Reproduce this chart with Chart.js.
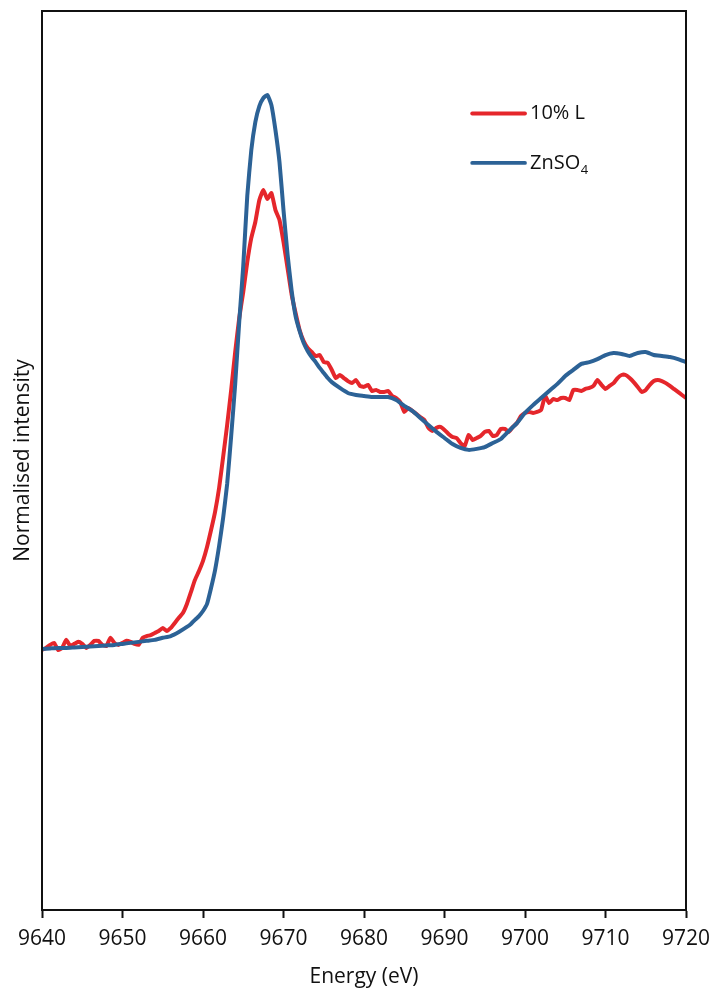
<!DOCTYPE html>
<html>
<head>
<meta charset="utf-8">
<script src="https://cdn.jsdelivr.net/npm/chart.js@4.4.0/dist/chart.umd.min.js"></script>
<style>
  html, body { margin: 0; padding: 0; background: #ffffff; }
  #wrap { width: 716px; height: 996px; }
</style>
</head>
<body>
<div id="wrap"><canvas id="c" width="716" height="996"></canvas></div>
<script>
// ---- Data ----
const seriesNames = ["10% L", "ZnSO\u2084"];
const xTickValues = [9640, 9650, 9660, 9670, 9680, 9690, 9700, 9710, 9720];

const energyRed = [
  9640, 9640.5, 9641, 9641.5, 9642, 9642.5, 9643, 9643.5, 9644, 9644.5,
  9645, 9645.5, 9646, 9646.5, 9647, 9647.5, 9648, 9648.5, 9649, 9649.5,
  9650, 9650.5, 9651, 9651.5, 9652, 9652.5, 9653, 9653.5, 9654, 9654.5,
  9655, 9655.5, 9656, 9656.5, 9657, 9657.5, 9658, 9658.5, 9659, 9659.5,
  9660, 9660.5, 9661, 9661.5, 9662, 9662.5, 9663, 9663.5, 9664, 9664.5,
  9665, 9665.5, 9666, 9666.5, 9667, 9667.5, 9668, 9668.5, 9669, 9669.5,
  9670, 9670.5, 9671, 9671.5, 9672, 9672.5, 9673, 9673.5, 9674, 9674.5,
  9675, 9675.5, 9676, 9676.5, 9677, 9677.5, 9678, 9678.5, 9679, 9679.5,
  9680, 9680.5, 9681, 9681.5, 9682, 9682.5, 9683, 9683.5, 9684, 9684.5,
  9685, 9685.5, 9686, 9686.5, 9687, 9687.5, 9688, 9688.5, 9689, 9689.5,
  9690, 9690.5, 9691, 9691.5, 9692, 9692.5, 9693, 9693.5, 9694, 9694.5,
  9695, 9695.5, 9696, 9696.5, 9697, 9697.5, 9698, 9698.5, 9699, 9699.5,
  9700, 9700.5, 9701, 9701.5, 9702, 9702.5, 9703, 9703.5, 9704, 9704.5,
  9705, 9705.5, 9706, 9706.5, 9707, 9707.5, 9708, 9708.5, 9709, 9709.5,
  9710, 9710.5, 9711, 9711.5, 9712, 9712.5, 9713, 9713.5, 9714, 9714.5,
  9715, 9715.5, 9716, 9716.5, 9717, 9717.5, 9718, 9718.5, 9719, 9719.5,
  9720
];
const intensityRed = [
  -0.008, 0.000, 0.012, 0.020, -0.008, 0.000, 0.032, 0.008, 0.016, 0.024,
  0.016, 0.000, 0.012, 0.028, 0.028, 0.012, 0.008, 0.040, 0.020, 0.012,
  0.020, 0.028, 0.024, 0.016, 0.012, 0.040, 0.047, 0.051, 0.059, 0.067,
  0.079, 0.067, 0.079, 0.099, 0.119, 0.138, 0.174, 0.221, 0.269, 0.304,
  0.344, 0.399, 0.466, 0.538, 0.632, 0.755, 0.881, 1.020, 1.170, 1.304,
  1.407, 1.526, 1.621, 1.684, 1.771, 1.810, 1.775, 1.798, 1.731, 1.692,
  1.605, 1.502, 1.399, 1.324, 1.257, 1.213, 1.186, 1.170, 1.154, 1.158,
  1.130, 1.127, 1.099, 1.067, 1.079, 1.067, 1.055, 1.047, 1.059, 1.036,
  1.032, 1.040, 1.016, 1.020, 1.012, 1.012, 1.016, 0.996, 0.988, 0.972,
  0.933, 0.949, 0.937, 0.925, 0.913, 0.901, 0.870, 0.858, 0.870, 0.874,
  0.862, 0.846, 0.834, 0.830, 0.810, 0.798, 0.842, 0.822, 0.830, 0.838,
  0.854, 0.858, 0.838, 0.842, 0.866, 0.866, 0.854, 0.874, 0.889, 0.917,
  0.929, 0.933, 0.929, 0.933, 0.941, 0.996, 0.968, 0.984, 0.980, 0.988,
  0.988, 0.980, 1.020, 1.020, 1.016, 1.024, 1.028, 1.036, 1.059, 1.040,
  1.024, 1.036, 1.047, 1.067, 1.079, 1.079, 1.067, 1.051, 1.032, 1.012,
  1.020, 1.040, 1.055, 1.059, 1.055, 1.047, 1.036, 1.024, 1.012, 1.000,
  0.988
];

const energyBlue = [
  9640, 9641, 9642, 9643, 9644, 9645, 9646, 9647, 9648, 9649,
  9650, 9651, 9652, 9653, 9654, 9655, 9656, 9657, 9658, 9658.5,
  9659, 9659.5, 9660, 9660.5, 9661, 9661.5, 9662, 9662.5, 9663, 9663.5,
  9664, 9664.5, 9665, 9665.5, 9666, 9666.5, 9667, 9667.5, 9668, 9668.5,
  9669, 9669.5, 9670, 9670.5, 9671, 9671.5, 9672, 9672.5, 9673, 9673.5,
  9674, 9674.5, 9675, 9675.5, 9676, 9677, 9678, 9679, 9680, 9681,
  9682, 9683, 9684, 9685, 9686, 9687, 9688, 9689, 9690, 9691,
  9692, 9693, 9694, 9695, 9696, 9697, 9698, 9699, 9700, 9701,
  9702, 9703, 9704, 9705, 9706, 9707, 9708, 9709, 9710, 9711,
  9712, 9713, 9714, 9715, 9716, 9717, 9718, 9719, 9720
];
const intensityBlue = [
  -0.004, -0.002, 0.000, 0.000, 0.002, 0.004, 0.006, 0.008, 0.010, 0.012,
  0.016, 0.020, 0.024, 0.028, 0.032, 0.040, 0.047, 0.063, 0.083, 0.095,
  0.111, 0.126, 0.146, 0.174, 0.237, 0.308, 0.403, 0.514, 0.648, 0.838,
  1.043, 1.289, 1.510, 1.787, 1.968, 2.079, 2.142, 2.174, 2.186, 2.146,
  2.047, 1.921, 1.731, 1.557, 1.415, 1.312, 1.253, 1.206, 1.174, 1.150,
  1.130, 1.107, 1.087, 1.067, 1.051, 1.028, 1.008, 1.000, 0.996, 0.992,
  0.992, 0.992, 0.980, 0.957, 0.937, 0.909, 0.881, 0.854, 0.830, 0.806,
  0.791, 0.783, 0.787, 0.794, 0.810, 0.826, 0.858, 0.889, 0.929, 0.960,
  0.988, 1.016, 1.043, 1.075, 1.099, 1.123, 1.130, 1.142, 1.158, 1.166,
  1.162, 1.154, 1.166, 1.170, 1.158, 1.154, 1.150, 1.142, 1.130
];

const xMin = 9640, xMax = 9720;
const yMin = -1.036, yMax = 2.518;

const RED = '#e5262b';
const BLUE = '#2c6296';
const FONT = "'Open Sans', 'Liberation Sans', sans-serif";

function pts(xs, ys) { return xs.map((x, i) => ({ x: x, y: ys[i] })); }

// frame around plot area + legend drawn inside the plot
const framePlugin = {
  id: 'frameAndLegend',
  afterDatasetsDraw(chart) {
    const { ctx, chartArea: a } = chart;
    ctx.save();
    ctx.strokeStyle = '#111';
    ctx.lineWidth = 2;
    ctx.strokeRect(a.left, a.top, a.right - a.left, a.bottom - a.top);

    const w = a.right - a.left, h = a.bottom - a.top;
    const lx0 = a.left + w * 0.668, lx1 = a.left + w * 0.750;
    const rows = [
      { y: a.top + h * 0.114, color: chart.data.datasets[1].borderColor, main: '10% L', sub: '' },
      { y: a.top + h * 0.169, color: chart.data.datasets[0].borderColor, main: 'ZnSO', sub: '4' }
    ];
    rows.forEach(r => {
      ctx.strokeStyle = r.color;
      ctx.lineWidth = 3.8;
      ctx.lineCap = 'round';
      ctx.beginPath();
      ctx.moveTo(lx0, r.y);
      ctx.lineTo(lx1, r.y);
      ctx.stroke();
      ctx.fillStyle = '#111';
      ctx.font = '20px ' + FONT;
      ctx.textBaseline = 'middle';
      ctx.textAlign = 'left';
      const tx = lx1 + 5;
      ctx.fillText(r.main, tx, r.y);
      if (r.sub) {
        const mw = ctx.measureText(r.main).width;
        ctx.font = '13px ' + FONT;
        ctx.fillText(r.sub, tx + mw + 0.5, r.y + 7);
      }
    });
    ctx.restore();
  }
};

new Chart(document.getElementById('c'), {
  type: 'line',
  data: {
    datasets: [
      {
        label: seriesNames[1],
        data: pts(energyBlue, intensityBlue),
        borderColor: BLUE,
        borderWidth: 4,
        pointRadius: 0,
        tension: 0.15,
        fill: false
      },
      {
        label: seriesNames[0],
        data: pts(energyRed, intensityRed),
        borderColor: RED,
        borderWidth: 4,
        pointRadius: 0,
        tension: 0.15,
        fill: false
      }
    ]
  },
  options: {
    responsive: false,
    animation: false,
    devicePixelRatio: 1,
    layout: { padding: { top: 11, right: 30, left: 0, bottom: 0 } },
    plugins: {
      legend: { display: false },
      tooltip: { enabled: false }
    },
    scales: {
      x: {
        type: 'linear',
        min: xMin,
        max: xMax,
        afterBuildTicks(scale) { scale.ticks = xTickValues.map(v => ({ value: v })); },
        afterFit(scale) {
          scale.height = 86;
          scale.paddingLeft = 0;
          scale.paddingRight = 0;
        },
        grid: {
          display: true,
          drawOnChartArea: false,
          drawTicks: true,
          tickLength: 8,
          tickWidth: 2,
          tickColor: '#111'
        },
        border: { display: true, color: '#111', width: 2 },
        ticks: {
          color: '#111',
          font: { family: FONT, size: 21 },
          padding: 8,
          maxRotation: 0,
          autoSkip: false,
          callback: (v) => String(v)
        },
        title: {
          display: true,
          text: 'Energy (eV)',
          color: '#111',
          font: { family: FONT, size: 21 },
          padding: { top: 0, bottom: 6 }
        }
      },
      y: {
        type: 'linear',
        min: yMin,
        max: yMax,
        afterFit(scale) { scale.width = 42; },
        grid: { display: false, drawTicks: false },
        border: { display: true, color: '#111', width: 2 },
        ticks: { display: false },
        title: {
          display: true,
          text: 'Normalised intensity',
          color: '#111',
          font: { family: FONT, size: 21 },
          padding: { top: 10, bottom: 0 }
        }
      }
    }
  },
  plugins: [framePlugin]
});
</script>
</body>
</html>
